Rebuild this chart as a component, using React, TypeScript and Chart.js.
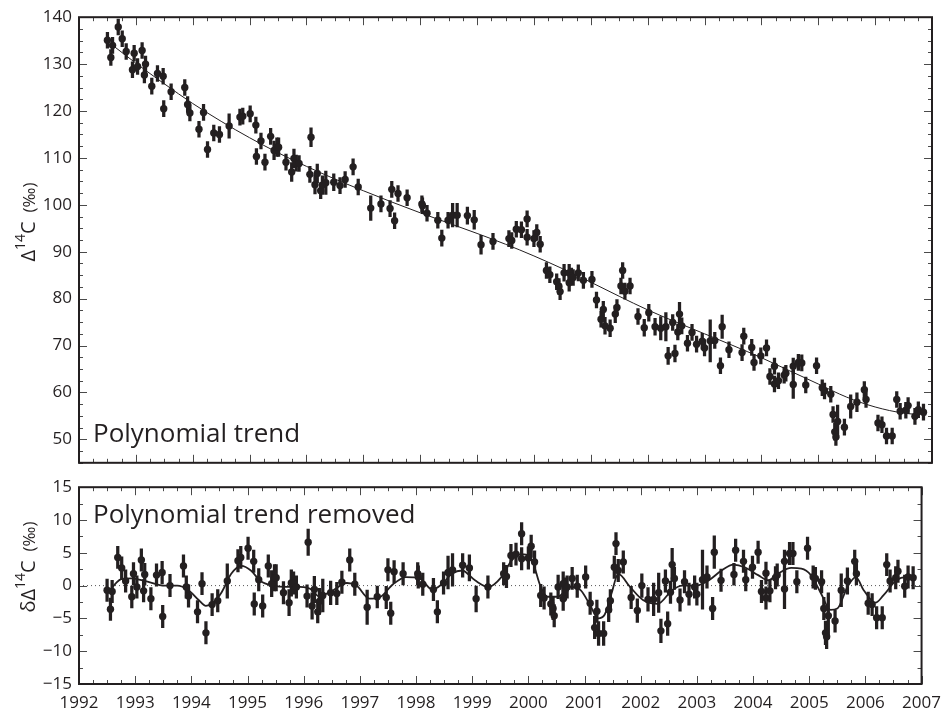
import React, { useEffect, useRef } from 'react';
import { Chart, registerables } from 'chart.js';
Chart.register(...registerables);

// ---- data ----
const dates = [
  1992.50, 1992.56, 1992.59, 1992.69, 1992.76, 1992.83, 1992.94, 1992.97, 1993.03, 1993.11,
  1993.15, 1993.17, 1993.28, 1993.38, 1993.48, 1993.49, 1993.62, 1993.86, 1993.91, 1993.95,
  1994.11, 1994.19, 1994.26, 1994.37, 1994.47, 1994.64, 1994.83, 1994.88, 1995.01, 1995.11,
  1995.12, 1995.20, 1995.27, 1995.37, 1995.43, 1995.48, 1995.51, 1995.64, 1995.74, 1995.78,
  1995.82, 1995.87, 1996.06, 1996.08, 1996.15, 1996.19, 1996.25, 1996.28, 1996.34, 1996.48,
  1996.59, 1996.68, 1996.82, 1996.91, 1997.13, 1997.31, 1997.47, 1997.50, 1997.55, 1997.61,
  1997.77, 1998.03, 1998.04, 1998.12, 1998.31, 1998.38, 1998.49, 1998.57, 1998.65, 1998.83,
  1998.95, 1999.07, 1999.28, 1999.56, 1999.61, 1999.69, 1999.78, 1999.88, 1999.88, 2000.00,
  2000.05, 2000.11, 2000.22, 2000.28, 2000.40, 2000.44, 2000.46, 2000.53, 2000.62, 2000.62,
  2000.66, 2000.69, 2000.78, 2000.87, 2001.02, 2001.10, 2001.18, 2001.22, 2001.25, 2001.34,
  2001.43, 2001.46, 2001.53, 2001.56, 2001.60, 2001.69, 2001.83, 2001.94, 2002.02, 2002.13,
  2002.23, 2002.32, 2002.36, 2002.44, 2002.48, 2002.53, 2002.56, 2002.60, 2002.70, 2002.78,
  2002.86, 2002.96, 2003.00, 2003.10, 2003.18, 2003.28, 2003.31, 2003.43, 2003.66, 2003.69,
  2003.83, 2003.87, 2003.99, 2004.09, 2004.15, 2004.23, 2004.23, 2004.30, 2004.40, 2004.43,
  2004.56, 2004.56, 2004.65, 2004.71, 2004.78, 2004.97, 2005.07, 2005.11, 2005.22, 2005.26,
  2005.29, 2005.31, 2005.34, 2005.46, 2005.57, 2005.68, 2005.81, 2005.84, 2006.05, 2006.12,
  2006.20, 2006.30, 2006.38, 2006.44, 2006.54, 2006.58, 2006.70, 2006.76, 2006.85,
];

const delta14C = [
  135.1, 131.4, 134.0, 137.9, 135.4, 132.7, 128.8, 132.3, 129.5, 132.9,
  127.7, 130.0, 125.3, 128.0, 127.4, 120.5, 124.1, 125.0, 121.4, 119.6,
  116.1, 119.7, 111.8, 115.3, 115.0, 116.8, 118.7, 118.9, 119.4, 117.0,
  110.3, 113.6, 109.1, 114.6, 111.6, 112.3, 112.3, 109.1, 107.0, 109.9,
  108.9, 108.8, 106.5, 114.4, 104.3, 106.7, 103.0, 104.2, 104.7, 104.8,
  104.1, 105.4, 108.1, 103.8, 99.3, 100.2, 99.2, 103.3, 96.6, 102.4,
  101.5, 100.2, 99.8, 98.2, 96.7, 92.9, 96.7, 97.8, 97.8, 97.7,
  96.8, 91.5, 92.2, 92.8, 92.4, 94.8, 94.7, 97.0, 93.1, 92.8,
  94.1, 91.6, 86.0, 85.1, 83.6, 82.6, 81.5, 85.5, 85.5, 83.4,
  84.8, 84.5, 85.5, 83.9, 84.1, 79.7, 75.6, 77.7, 74.2, 73.7,
  76.7, 78.1, 82.7, 86.0, 81.6, 82.7, 76.2, 73.8, 77.0, 74.0,
  73.7, 74.0, 67.8, 74.9, 68.3, 72.9, 76.7, 74.2, 70.5, 72.8,
  70.3, 70.9, 69.5, 71.0, 71.1, 65.7, 74.0, 69.1, 68.5, 72.0,
  69.6, 66.4, 67.8, 69.5, 63.4, 65.6, 61.8, 62.5, 63.7, 64.1,
  65.6, 61.7, 66.4, 66.3, 61.6, 65.7, 61.0, 60.3, 59.6, 55.3,
  51.6, 50.5, 53.8, 52.6, 57.0, 57.9, 60.6, 58.5, 53.5, 53.1,
  50.7, 50.7, 58.5, 56.0, 56.2, 57.2, 54.9, 56.3, 55.8,
];

const residuals = [
  -0.7, -3.6, -0.9, 4.3, 2.7, 0.7, -1.7, 1.8, -0.2, 3.9,
  -0.8, 1.7, -2.0, 1.6, 2.0, -4.7, 0.0, 3.0, -0.2, -1.6,
  -4.0, 0.3, -7.2, -2.9, -2.3, 0.7, 3.8, 4.3, 5.7, 3.7,
  -2.8, 0.9, -3.1, 3.0, 0.3, 1.2, 1.2, -1.1, -2.6, 0.4,
  0.4, -0.2, -1.6, 6.6, -3.1, -0.6, -4.0, -2.4, -1.5, -1.1,
  -1.2, 0.5, 3.9, 0.2, -3.3, -1.7, -1.8, 2.4, -4.2, 2.1,
  1.8, 1.8, 1.3, 0.2, -0.6, -4.0, 0.4, 2.0, 2.4, 3.1,
  2.7, -2.0, -0.2, 1.8, 1.4, 4.6, 4.8, 7.9, 4.1, 4.2,
  6.0, 3.6, -1.5, -1.9, -2.8, -3.5, -4.6, -0.2, 0.3, -2.0,
  -0.5, -0.2, 1.1, -0.1, 1.3, -2.7, -6.4, -3.9, -7.3, -7.3,
  -3.7, -2.3, 2.8, 6.4, 2.3, 3.6, -1.8, -3.8, 0.0, -2.1,
  -2.1, -1.1, -6.9, 0.7, -5.8, -1.0, 3.2, 1.1, -2.2, 0.6,
  -1.3, -0.2, -1.3, 0.9, 1.3, -3.5, 5.1, 0.8, 1.7, 5.4,
  3.7, 0.9, 2.8, 5.1, -0.9, 1.9, -1.9, -0.8, 1.2, 1.6,
  3.7, -0.5, 4.9, 4.9, 0.6, 5.7, 1.3, 1.1, 0.6, -3.5,
  -7.2, -7.8, -4.6, -5.4, -0.7, 0.7, 3.7, 1.8, -2.7, -2.9,
  -4.9, -4.9, 3.2, 0.7, 1.2, 2.2, -0.1, 1.3, 1.2,
];

const errors = [
  1.7, 1.7, 1.7, 1.7, 1.7, 1.7, 1.7, 1.7, 1.7, 1.7,
  1.7, 1.7, 1.7, 1.7, 1.7, 1.7, 1.7, 1.7, 1.7, 1.7,
  1.7, 1.7, 1.7, 1.7, 1.7, 2.6, 1.7, 1.7, 1.7, 1.7,
  1.7, 1.7, 1.7, 1.7, 2.0, 2.0, 2.0, 1.7, 2.0, 2.0,
  1.7, 1.7, 1.7, 2.0, 2.0, 2.0, 1.7, 2.0, 2.5, 1.8,
  1.7, 1.7, 1.7, 1.7, 2.6, 1.7, 1.7, 1.7, 1.7, 1.7,
  1.7, 1.7, 1.7, 1.7, 1.7, 1.7, 1.7, 2.5, 2.5, 1.8,
  2.0, 2.0, 1.7, 1.7, 1.7, 1.7, 1.7, 1.7, 1.7, 1.7,
  1.7, 1.7, 1.7, 1.7, 1.7, 1.7, 1.7, 1.8, 1.8, 1.8,
  1.7, 1.7, 1.7, 1.7, 1.7, 1.7, 1.7, 1.7, 1.8, 1.8,
  1.8, 1.7, 1.7, 1.7, 1.7, 1.7, 1.7, 1.8, 1.8, 1.8,
  2.5, 3.0, 1.8, 1.7, 1.8, 1.7, 2.5, 1.7, 1.7, 1.7,
  1.7, 1.7, 1.7, 4.5, 1.7, 1.7, 2.5, 1.7, 1.7, 1.7,
  1.7, 1.7, 1.7, 1.7, 1.7, 1.7, 1.7, 1.7, 1.7, 1.7,
  1.7, 3.0, 1.7, 1.7, 1.7, 1.7, 1.7, 1.7, 1.7, 1.7,
  1.8, 1.8, 3.5, 1.7, 2.5, 2.0, 1.7, 1.7, 1.7, 1.7,
  1.7, 1.7, 1.7, 1.7, 1.7, 1.7, 1.7, 1.7, 1.7,
];

const trendDates = [
  1992.55, 1993.0, 1993.5, 1994.0, 1994.5, 1995.0, 1995.5, 1996.0, 1996.5, 1997.0,
  1997.5, 1998.0, 1998.5, 1999.0, 1999.5, 2000.0, 2000.5, 2001.0, 2001.5, 2002.0,
  2002.5, 2003.0, 2003.5, 2004.0, 2004.5, 2005.0, 2005.5, 2006.0, 2006.5, 2006.9,
];
const trendValues = [
  134.4, 130.2, 125.8, 121.6, 117.8, 114.3, 111.1, 108.2, 105.5, 103.0,
  100.6, 98.3, 96.1, 93.9, 91.6, 89.1, 86.4, 83.5, 80.5, 77.6,
  75.0, 72.5, 70.0, 67.4, 64.6, 61.8, 59.0, 56.9, 55.6, 55.2,
];

const fitDates = [
  1992.55, 1992.65, 1992.75, 1992.93, 1993.22, 1993.52, 1993.75, 1993.95, 1994.13, 1994.26,
  1994.39, 1994.54, 1994.71, 1994.89, 1995.06, 1995.23, 1995.46, 1995.69, 1995.93, 1996.16,
  1996.26, 1996.47, 1996.77, 1996.94, 1997.17, 1997.35, 1997.59, 1997.82, 1998.05, 1998.29,
  1998.47, 1998.64, 1998.82, 1999.05, 1999.29, 1999.52, 1999.70, 1999.87, 2000.05, 2000.22,
  2000.34, 2000.52, 2000.75, 2000.93, 2001.10, 2001.24, 2001.36, 2001.48, 2001.60, 2001.81,
  2002.04, 2002.30, 2002.56, 2002.74, 2002.98, 2003.21, 2003.44, 2003.65, 2003.85, 2004.09,
  2004.27, 2004.44, 2004.68, 2004.86, 2005.03, 2005.21, 2005.38, 2005.50, 2005.68, 2005.83,
  2005.97, 2006.18, 2006.32, 2006.55, 2006.73, 2006.88,
];
const fitValues = [
  -0.7, 0.3, 1.0, 1.1, 0.6, 0.0, 0.0, -0.7, -2.2, -3.1,
  -2.6, -1.0, 1.8, 3.0, 2.3, 0.7, 0.0, -0.2, -0.2, -0.7,
  -1.6, -1.0, 0.4, 0.0, -2.0, -1.8, 0.2, 1.3, 1.2, -0.6,
  0.3, 1.8, 2.3, 0.8, -0.2, 1.3, 3.8, 4.8, 4.1, -0.2,
  -1.7, -1.7, -0.2, -0.7, -3.0, -5.0, -4.4, -1.2, 1.8, -0.2,
  -2.2, -2.8, -0.7, 0.0, 0.0, 0.8, 2.3, 3.2, 2.8, 1.6,
  0.8, 1.8, 2.7, 2.6, 1.6, -1.2, -3.7, -3.5, -0.2, 1.3,
  -0.7, -2.6, -1.5, 0.8, 1.3, 1.3,
];

const xTicks = [1992, 1993, 1994, 1995, 1996, 1997, 1998, 1999, 2000, 2001, 2002, 2003, 2004, 2005, 2006, 2007];
const topYTicks = [50, 60, 70, 80, 90, 100, 110, 120, 130, 140];
const bottomYTicks = [-15, -10, -5, 0, 5, 10, 15];
const zeroLineDates = [1992, 2007];
const zeroLineValues = [0, 0];

const INK = '#231f20';
const FONT = "'Open Sans', 'Noto Sans', sans-serif";

function makeFramePlugin(cfg: any) {
  return {
    id: 'frame_' + cfg.name,
    afterDraw(chart: any) {
      const { ctx, chartArea } = chart;
      const { left, right, top, bottom } = chartArea;
      const xs = chart.scales.x;
      const ys = chart.scales.y;
      const eps = 1e-6;
      ctx.save();
      ctx.strokeStyle = '#4a4a4a';
      ctx.lineWidth = 1;
      ctx.beginPath();
      for (let v = xs.min; v <= xs.max + eps; v += cfg.xMinor) {
        const major = cfg.xMajor.some((m: number) => Math.abs(m - v) < eps);
        const len = major ? 8 : 4;
        const px = Math.round(xs.getPixelForValue(v)) + 0.5;
        ctx.moveTo(px, bottom); ctx.lineTo(px, bottom - len);
        ctx.moveTo(px, top); ctx.lineTo(px, top + len);
      }
      for (let v = ys.min; v <= ys.max + eps; v += cfg.yMinor) {
        const major = cfg.yMajor.some((m: number) => Math.abs(m - v) < eps);
        const len = major ? 8 : 4;
        const py = Math.round(ys.getPixelForValue(v)) + 0.5;
        ctx.moveTo(left, py); ctx.lineTo(left + len, py);
        ctx.moveTo(right, py); ctx.lineTo(right - len, py);
      }
      ctx.stroke();
      ctx.strokeStyle = INK;
      ctx.lineWidth = 2;
      ctx.strokeRect(left, top, right - left, bottom - top);

      // panel label
      ctx.fillStyle = INK;
      ctx.font = `26px ${FONT}`;
      ctx.textBaseline = 'alphabetic';
      ctx.textAlign = 'left';
      const ly = cfg.labelFromTop ? top + cfg.labelOffset : bottom - cfg.labelOffset;
      ctx.fillText(cfg.label, left + 14, ly);

      // y-axis title (rotated)
      ctx.translate(cfg.titleX, cfg.titleY);
      ctx.rotate(-Math.PI / 2);
      const parts = cfg.titleParts;
      let total = 0;
      for (const p of parts) {
        ctx.font = `${p.size}px ${FONT}`;
        total += ctx.measureText(p.t).width;
      }
      let x = -total / 2;
      for (const p of parts) {
        ctx.font = `${p.size}px ${FONT}`;
        ctx.fillText(p.t, x, p.dy);
        x += ctx.measureText(p.t).width;
      }
      ctx.restore();
    },
  };
}

function fmtNum(v: number) {
  return v < 0 ? '\u2212' + Math.abs(v) : String(v);
}

export default function App() {
  const topRef = useRef<HTMLCanvasElement>(null);
  const botRef = useRef<HTMLCanvasElement>(null);

  useEffect(() => {
    const errBars = (vals: number[]) =>
      dates.map((d, i) => ({ x: d, y: [vals[i] - errors[i], vals[i] + errors[i]] }));
    const pts = (vals: number[]) => dates.map((d, i) => ({ x: d, y: vals[i] }));

    const yTickStyle = { color: INK, font: { family: FONT, size: 17 }, padding: 7 };

    const top = new Chart(topRef.current!, {
      type: 'scatter',
      data: {
        datasets: [
          {
            type: 'line',
            data: trendDates.map((d, i) => ({ x: d, y: trendValues[i] })),
            borderColor: INK,
            borderWidth: 1,
            pointRadius: 0,
            cubicInterpolationMode: 'monotone',
            order: 3,
          } as any,
          {
            type: 'bar',
            data: errBars(delta14C),
            backgroundColor: INK,
            borderWidth: 0,
            barThickness: 2.6,
            order: 2,
          } as any,
          {
            type: 'scatter',
            data: pts(delta14C),
            pointRadius: 3.7,
            pointBackgroundColor: INK,
            pointBorderWidth: 0,
            order: 1,
          } as any,
        ],
      },
      options: {
        responsive: false,
        animation: false,
        layout: { padding: { left: 0, right: 18, top: 16, bottom: 16 } },
        plugins: { legend: { display: false }, tooltip: { enabled: false } },
        scales: {
          x: { type: 'linear', min: 1992, max: 2007, display: false, offset: false } as any,
          y: {
            type: 'linear', min: 45, max: 140,
            afterFit: (s: any) => { s.width = 79; },
            afterBuildTicks: (s: any) => { s.ticks = topYTicks.map((v) => ({ value: v })); },
            grid: { drawOnChartArea: false, drawTicks: false },
            border: { display: false },
            ticks: { ...yTickStyle, callback: (v: any) => fmtNum(Number(v)) },
          } as any,
        },
      },
      plugins: [makeFramePlugin({
        name: 'top', xMinor: 0.25, xMajor: xTicks, yMinor: 2.5, yMajor: topYTicks,
        label: 'Polynomial trend', labelFromTop: false, labelOffset: 21,
        titleX: 35, titleY: 222,
        titleParts: [
          { t: 'Δ', size: 20, dy: 0 },
          { t: '14', size: 14, dy: -10 },
          { t: 'C', size: 20, dy: 0 },
          { t: '  (‰)', size: 17, dy: 0 },
        ],
      })],
    } as any);

    const bot = new Chart(botRef.current!, {
      type: 'scatter',
      data: {
        datasets: [
          {
            type: 'line',
            data: zeroLineDates.map((d, i) => ({ x: d, y: zeroLineValues[i] })),
            borderColor: '#555',
            borderWidth: 1,
            borderDash: [1, 3],
            pointRadius: 0,
            order: 4,
          } as any,
          {
            type: 'line',
            data: fitDates.map((d, i) => ({ x: d, y: fitValues[i] })),
            borderColor: INK,
            borderWidth: 1.8,
            pointRadius: 0,
            cubicInterpolationMode: 'monotone',
            order: 3,
          } as any,
          {
            type: 'bar',
            data: errBars(residuals),
            backgroundColor: INK,
            borderWidth: 0,
            barThickness: 2.6,
            order: 2,
          } as any,
          {
            type: 'scatter',
            data: pts(residuals),
            pointRadius: 3.7,
            pointBackgroundColor: INK,
            pointBorderWidth: 0,
            order: 1,
          } as any,
        ],
      },
      options: {
        responsive: false,
        animation: false,
        layout: { padding: { left: 0, right: 18, top: 16, bottom: 0 } },
        plugins: { legend: { display: false }, tooltip: { enabled: false } },
        scales: {
          x: {
            type: 'linear', min: 1992, max: 2007, offset: false,
            afterFit: (s: any) => { s.height = 24; },
            afterBuildTicks: (s: any) => { s.ticks = xTicks.map((v) => ({ value: v })); },
            grid: { drawOnChartArea: false, drawTicks: false },
            border: { display: false },
            ticks: { color: INK, font: { family: FONT, size: 17 }, padding: 9, autoSkip: false, maxRotation: 0, callback: (v: any) => String(v) },
          } as any,
          y: {
            type: 'linear', min: -15, max: 15,
            afterFit: (s: any) => { s.width = 79; },
            afterBuildTicks: (s: any) => { s.ticks = bottomYTicks.map((v) => ({ value: v })); },
            grid: { drawOnChartArea: false, drawTicks: false },
            border: { display: false },
            ticks: { ...yTickStyle, callback: (v: any) => fmtNum(Number(v)) },
          } as any,
        },
      },
      plugins: [makeFramePlugin({
        name: 'bot', xMinor: 0.25, xMajor: xTicks, yMinor: 2.5, yMajor: bottomYTicks,
        label: 'Polynomial trend removed', labelFromTop: true, labelOffset: 36,
        titleX: 35, titleY: 97,
        titleParts: [
          { t: 'δΔ', size: 20, dy: 0 },
          { t: '14', size: 14, dy: -10 },
          { t: 'C', size: 20, dy: 0 },
          { t: '  (‰)', size: 17, dy: 0 },
        ],
      })],
    } as any);

    return () => { top.destroy(); bot.destroy(); };
  }, []);

  return (
    <div style={{ position: 'fixed', left: 0, top: 0, width: 950, height: 708, background: '#fff' }}>
      <canvas ref={topRef} width={950} height={480} style={{ position: 'absolute', left: 0, top: 0 }} />
      <canvas ref={botRef} width={950} height={238} style={{ position: 'absolute', left: 0, top: 470 }} />
    </div>
  );
}
